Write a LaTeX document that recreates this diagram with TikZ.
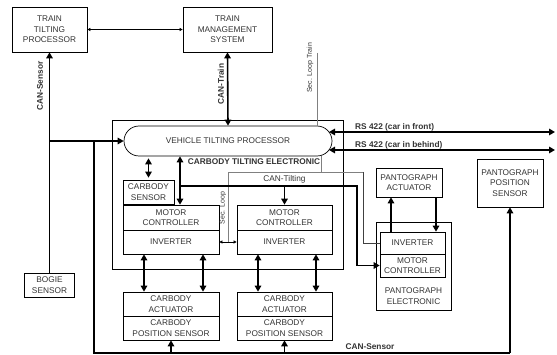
\documentclass[tikz,border=0pt]{standalone}
\usepackage{fontspec}
\setmainfont{Liberation Sans}
\usetikzlibrary{arrows.meta,shapes.misc}
\definecolor{txt}{HTML}{333333}
\definecolor{loopc}{HTML}{808080}
\begin{document}
\begin{tikzpicture}[x=1pt,y=-1pt,
  font=\fontsize{8.3}{10.4}\selectfont,
  >={Triangle[length=6pt,width=6.5pt]},
  box/.style={draw, line width=0.7pt, align=center, inner sep=0pt, text=txt},
  lblbold/.style={text=txt, inner sep=0pt, font=\fontsize{8.3}{10}\selectfont\bfseries},
  lblsmall/.style={text=txt, inner sep=0pt, font=\fontsize{7}{8}\selectfont},
  bus/.style={line width=1.6pt},
  midbus/.style={line width=1.2pt, shorten >=2pt, shorten <=2pt},
  sarrow/.style={line width=0.6pt, {Triangle[length=3pt,width=3pt]}-{Triangle[length=3pt,width=3pt]}},
  loopline/.style={line width=0.7pt, draw=loopc}
]
\useasboundingbox (0,0) rectangle (557,355);

% outer boxes
\node[draw, line width=0.7pt, minimum width=231pt, minimum height=149pt, inner sep=0pt] (cte) at (227.5,194.5) {};
\node[box, minimum width=75pt, minimum height=88pt] (pe) at (413.5,266) {};

% top level boxes
\node[box, minimum width=75pt, minimum height=45pt] (ttp) at (49.5,29.5) {TRAIN\\TILTING\\PROCESSOR};
\node[box, minimum width=89pt, minimum height=45pt] (tms) at (227.5,29.5) {TRAIN\\MANAGEMENT\\SYSTEM};
\node[box, minimum width=50pt, minimum height=24pt] (bogie) at (49.5,285) {BOGIE\\SENSOR};
\node[box, rounded rectangle, minimum width=208pt, minimum height=30pt] (vtp) at (228,141) {VEHICLE TILTING PROCESSOR};

% carbody tilting electronic
\node[box, minimum width=51pt, minimum height=24pt] (cs) at (148.5,192) {CARBODY\\SENSOR};
\node[box, minimum width=96pt, minimum height=25pt] (mc1) at (171,217.5) {MOTOR\\CONTROLLER};
\node[box, minimum width=96pt, minimum height=24pt] (inv1) at (171,242) {INVERTER};
\node[box, minimum width=95pt, minimum height=25pt] (mc2) at (284.5,217.5) {MOTOR\\CONTROLLER};
\node[box, minimum width=95pt, minimum height=24pt] (inv2) at (284.5,242) {INVERTER};

% actuators
\node[box, minimum width=96pt, minimum height=24pt] (ca1) at (171,304) {CARBODY\\ACTUATOR};
\node[box, minimum width=96pt, minimum height=24pt] (cps1) at (171,328) {CARBODY\\POSITION SENSOR};
\node[box, minimum width=95pt, minimum height=24pt] (ca2) at (284.5,304) {CARBODY\\ACTUATOR};
\node[box, minimum width=95pt, minimum height=24pt] (cps2) at (284.5,328) {CARBODY\\POSITION SENSOR};

% pantograph
\node[box, minimum width=66pt, minimum height=29pt] (pa) at (409,182.5) {PANTOGRAPH\\ACTUATOR};
\node[box, minimum width=65pt, minimum height=22pt] (pinv) at (412.5,243) {INVERTER};
\node[box, minimum width=65pt, minimum height=23pt] (pmc) at (412.5,265.5) {MOTOR\\CONTROLLER};
\node[text=txt, align=center, inner sep=0pt] (pelbl) at (413.5,296) {PANTOGRAPH\\ELECTRONIC};
\node[box, minimum width=66pt, minimum height=48pt] (pps) at (510,183) {PANTOGRAPH\\POSITION\\SENSOR};

% labels
\node[lblbold, rotate=90] (lcans) at (40,86) {CAN-Sensor};
\node[lblbold, rotate=90] (lcant) at (221,84) {CAN-Train};
\node[lblsmall, rotate=90] (lslt) at (310,68) {Sec. Loop Train};
\node[lblbold] (lcte) at (254,162) {CARBODY TILTING ELECTRONIC};
\node[text=txt, inner sep=0pt] (lcantil) at (284.5,179) {CAN-Tilting};
\node[lblsmall, rotate=90] (lsl) at (223,208) {Sec. Loop};
\node[lblbold, anchor=base west] (lrs1) at (355,129.5) {RS 422 (car in front)};
\node[lblbold, anchor=base west] (lrs2) at (355,147.5) {RS 422 (car in behind)};
\node[lblbold] (lcans2) at (370,347) {CAN-Sensor};

% coordinates
\coordinate (j1) at (49.5,141);
\coordinate (j2) at (94,141);
\coordinate (c1) at (94,353);
\coordinate (c2) at (510,353);
\coordinate (slt) at (317,53);
\coordinate (sl1) at (321,172);
\coordinate (sl2) at (228,172);
\coordinate (sl3) at (363,172);
\coordinate (ct1) at (180,186);
\coordinate (ct2) at (357,186);
\coordinate (px1) at (391,0);
\coordinate (px2) at (436,0);
\coordinate (ax1) at (144,0);
\coordinate (ax2) at (203,0);
\coordinate (ax3) at (258,0);
\coordinate (ax4) at (316,0);
\coordinate (rs1) at (555,132);
\coordinate (rs2) at (555,150);
\coordinate (rl1) at (329,132);
\coordinate (rl2) at (329,150);

% connectors
\draw[sarrow] (ttp.east) -- (tms.west);
\draw[bus,->] (bogie.north) -- (ttp.south);
\draw[bus,->] (j1) -- (vtp.west);
\draw[bus] (j2) -- (c1) -- (c2);
\draw[bus,->] (c2) -- (pps.south);
\draw[bus,->] (cps1.south |- c1) -- (cps1.south);
\draw[bus,->] (cps2.south |- c1) -- (cps2.south);
\draw[bus,<->] (tms.south) -- (vtp.north);

\draw[loopline] (slt) -- (slt |- vtp.north);
\draw[loopline] (sl1 |- vtp.south) -- (sl1);
\draw[loopline] (sl2 |- inv1.east) -- (sl2) -- (sl3);
\draw[line width=0.7pt, draw=black!75] (sl3) -- (sl3 |- pinv.west) -- (pinv.west);
\draw[sarrow] (inv1.east) -- (inv2.west);

\draw[bus,<->] (ct1 |- vtp.south) -- (ct1 |- mc1.north);
\draw[bus,->] (ct1) -- (ct2) -- (ct2 |- pmc.west) -- (pmc.west);
\draw[bus,->] (mc2.north |- ct1) -- (mc2.north);
\draw[midbus,<->] (cs.north) -- (cs.north |- vtp.south);

\draw[bus,->] (px1 |- pinv.north) -- (px1 |- pa.south);
\draw[bus,->] (px2 |- pa.south) -- (px2 |- pinv.north);

\draw[bus,<->] (ax1 |- inv1.south) -- (ax1 |- ca1.north);
\draw[bus,<->] (ax2 |- inv1.south) -- (ax2 |- ca1.north);
\draw[bus,<->] (ax3 |- inv2.south) -- (ax3 |- ca2.north);
\draw[bus,<->] (ax4 |- inv2.south) -- (ax4 |- ca2.north);

\draw[bus,<->] (rl1) -- (rs1);
\draw[bus,<->] (rl2) -- (rs2);
\end{tikzpicture}
\end{document}
